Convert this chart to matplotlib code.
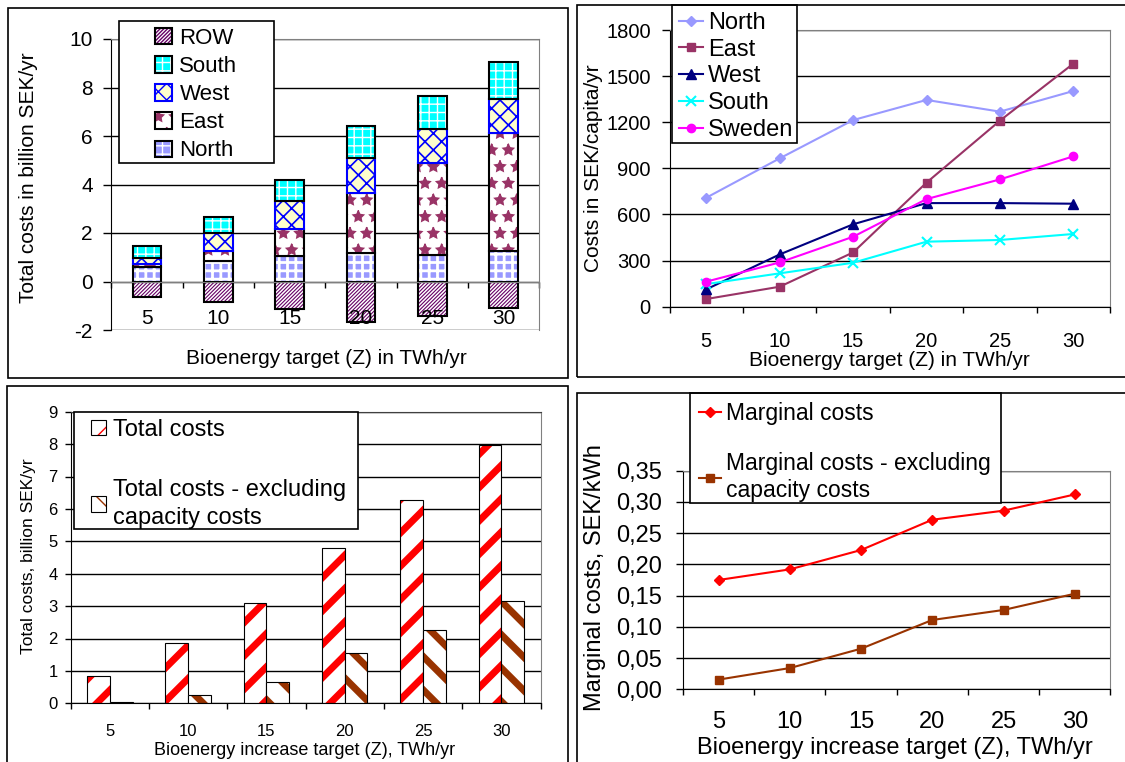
import numpy as np
import matplotlib
matplotlib.use("Agg")
import matplotlib.pyplot as plt
from matplotlib.patches import Rectangle
from matplotlib.ticker import FuncFormatter

plt.rcParams['font.family'] = ['Liberation Sans', 'DejaVu Sans']
plt.rcParams['axes.unicode_minus'] = False

# ---- data ----
targets = ['5', '10', '15', '20', '25', '30']

# top left: total costs per region, billion SEK/yr (stacked)
tot_north = [0.59, 0.85, 1.06, 1.17, 1.11, 1.24]
tot_east = [0.14, 0.39, 1.10, 2.50, 3.77, 4.87]
tot_west = [0.23, 0.75, 1.14, 1.44, 1.40, 1.43]
tot_south = [0.51, 0.66, 0.88, 1.32, 1.37, 1.51]
tot_row = [-0.64, -0.85, -1.14, -1.69, -1.41, -1.10]

# top right: costs in SEK/capita/yr
cap_north = [709, 965, 1214, 1345, 1269, 1403]
cap_east = [50, 130, 353, 807, 1210, 1581]
cap_west = [113, 340, 536, 674, 674, 670]
cap_south = [147, 217, 286, 423, 434, 473]
cap_sweden = [163, 288, 455, 700, 828, 978]

# bottom left: total costs, billion SEK/yr
total_costs = [0.84, 1.85, 3.09, 4.78, 6.26, 7.98]
total_excl = [0.03, 0.25, 0.67, 1.56, 2.26, 3.17]

# bottom right: marginal costs, SEK/kWh
marg_costs = [0.175, 0.192, 0.223, 0.2715, 0.286, 0.312]
marg_excl = [0.0155, 0.034, 0.065, 0.111, 0.127, 0.153]

W, H = 1125, 762
fig = plt.figure(figsize=(W / 100, H / 100), dpi=100)


def box(x0, y0, x1, y1):
    # pixel box (top-left origin) -> figure fraction rect
    return [x0 / W, 1 - y1 / H, (x1 - x0) / W, (y1 - y0) / H]


def pt(x, y):
    return (x / W, 1 - y / H)


def frame(x0, y0, x1, y1, ax=None, lw=1.2):
    r = Rectangle(pt(x0, y1), (x1 - x0) / W, (y1 - y0) / H, transform=fig.transFigure,
                  facecolor='white' if ax is not None else 'none', edgecolor='black',
                  lw=lw, clip_on=False, zorder=4)
    if ax is None:
        fig.add_artist(r)
    else:
        ax.add_artist(r)


def style_axes(ax, ymin, ymax, ystep, ysize, ypad, ylen, xsize, xpad):
    ax.set_xlim(-0.5, 5.5)
    ax.set_ylim(ymin, ymax)
    ax.set_yticks(np.arange(ymin, ymax + ystep / 2, ystep))
    ax.set_xticks(range(6))
    ax.set_xticklabels(targets)
    ax.set_xticks(np.arange(-0.5, 6, 1), minor=True)
    ax.tick_params(axis='x', which='major', length=0, labelsize=xsize, pad=xpad)
    ax.tick_params(axis='x', which='minor', length=4.5, width=1, direction='out')
    ax.tick_params(axis='y', length=ylen, width=1, labelsize=ysize, pad=ypad)
    # gridlines kept under the marks, tick labels stay on top
    for v in ax.get_yticks():
        ax.axhline(v, color='black', lw=1, zorder=0.5)
    for s in ['top', 'right']:
        ax.spines[s].set_color('#808080')
    for s in ['left', 'bottom']:
        ax.spines[s].set_color('black')


def hatched_bar(ax, x, h, bottom, face, hatch, hcolor, edge, width, elw=1.5, hlw=1.0):
    with plt.rc_context({'hatch.linewidth': hlw}):
        b1 = ax.bar(x, h, width, bottom=bottom, color=face, hatch=hatch,
                    edgecolor=hcolor, lw=0)
    for p in b1:
        if hasattr(p, 'set_hatch_linewidth'):
            p.set_hatch_linewidth(hlw)
    b2 = ax.bar(x, h, width, bottom=bottom, fill=False, edgecolor=edge, lw=elw)
    return (b1, b2)


x = np.arange(len(targets))

# panel frames
frame(7.9, 8.3, 567.7, 377.7)
frame(576.7, 5, 1130, 376.7)
frame(7, 385.7, 567.7, 770)
frame(576.7, 393.3, 1130, 770)

# ---------------- top left ----------------
ax1 = fig.add_axes(box(111.4, 39, 539.3, 330))
style_axes(ax1, -2, 10, 2, 15, 8, 5.5, 15, 20)
ax1.spines['bottom'].set_position(('data', 0))
ax1.spines['bottom'].set_color('#808080')

n = np.array(tot_north)
e = np.array(tot_east)
w = np.array(tot_west)
s = np.array(tot_south)
h_row = hatched_bar(ax1, x, tot_row, 0, 'white', '/' * 9, '#660066', 'black', 0.4, hlw=0.8)
h_north = hatched_bar(ax1, x, n, 0, '#9999FF', '++', 'white', 'black', 0.4, hlw=2.0)
h_east = hatched_bar(ax1, x, e, n, 'white', '*', '#993366', 'black', 0.4)
h_west = hatched_bar(ax1, x, w, n + e, '#FFFFCC', 'xx', '#0000FF', '#0000FF', 0.4, hlw=1.2)
h_south = hatched_bar(ax1, x, s, n + e + w, '#00FFFF', '++', 'white', 'black', 0.4, hlw=1.0)

frame(118.6, 20.7, 274, 163.3, ax=ax1)
ax1.legend([h_row, h_south, h_west, h_east, h_north],
           ['ROW', 'South', 'West', 'East', 'North'],
           loc='upper left', bbox_to_anchor=pt(155, 28), bbox_transform=fig.transFigure,
           frameon=False, borderpad=0, borderaxespad=0, fontsize=16,
           handlelength=0.75, handleheight=0.75, handletextpad=0.35, labelspacing=0.32)
fig.text(*pt(28.6, 178), 'Total costs in billion SEK/yr', rotation=90,
         ha='center', va='center', fontsize=15)
fig.text(*pt(326, 358), 'Bioenergy target (Z) in TWh/yr', ha='center', va='center',
         fontsize=15)

# ---------------- top right ----------------
ax2 = fig.add_axes(box(669.6, 30, 1110, 306.7))
style_axes(ax2, 0, 1800, 300, 14.5, 8, 5.5, 14.5, 18)
ax2.plot(x, cap_north, color='#9999FF', marker='D', ms=5, lw=1.5, label='North')
ax2.plot(x, cap_east, color='#993366', marker='s', ms=6, lw=1.5, label='East')
ax2.plot(x, cap_west, color='#000080', marker='^', ms=7, lw=1.5, label='West')
ax2.plot(x, cap_south, color='#00FFFF', marker='x', ms=7, mew=1.5, lw=1.5, label='South')
ax2.plot(x, cap_sweden, color='#FF00FF', marker='o', ms=6, lw=1.5, label='Sweden')
frame(672, 5, 797, 142.7, ax=ax2)
ax2.legend(loc='upper left', bbox_to_anchor=pt(679, 12), bbox_transform=fig.transFigure,
           frameon=False, borderpad=0, borderaxespad=0, fontsize=17,
           handlelength=1.0, handletextpad=0.22, labelspacing=0.2)
fig.text(*pt(593.6, 168), 'Costs in SEK/capita/yr', rotation=90,
         ha='center', va='center', fontsize=15)
fig.text(*pt(889, 360), 'Bioenergy target (Z) in TWh/yr', ha='center', va='center',
         fontsize=15)

# ---------------- bottom left ----------------
ax3 = fig.add_axes(box(70.7, 411.7, 540.5, 703.3))
style_axes(ax3, 0, 9, 1, 12, 5, 4.5, 12, 15)
ax3.spines['top'].set_color('#404040')
h_tot = hatched_bar(ax3, x - 0.145, total_costs, 0, 'white', '/', '#FF0000', 'black',
                    0.29, elw=0.8, hlw=5)
h_exc = hatched_bar(ax3, x + 0.145, total_excl, 0, 'white', '\\', '#993300', 'black',
                    0.29, elw=0.8, hlw=5)
frame(74.3, 411.7, 358, 529, ax=ax3)
leg3 = ax3.legend([h_tot, h_exc], ['Total costs', 'Total costs - excluding\ncapacity costs'],
                  loc='upper left', bbox_to_anchor=pt(91, 419), bbox_transform=fig.transFigure,
                  frameon=False, borderpad=0, borderaxespad=0, fontsize=17,
                  handlelength=0.63, handleheight=0.63, handletextpad=0.3, labelspacing=1.62)
for t in leg3.get_texts():
    t.set_linespacing(1.32)
fig.text(*pt(28.6, 556), 'Total costs, billion SEK/yr', rotation=90,
         ha='center', va='center', fontsize=12.5)
fig.text(*pt(305, 750.7), 'Bioenergy increase target (Z), TWh/yr', ha='center',
         va='center', fontsize=13)

# ---------------- bottom right ----------------
ax4 = fig.add_axes(box(682.9, 470.7, 1110.4, 689.3))
style_axes(ax4, 0, 0.35, 0.05, 17, 10, 5, 17, 15.5)
ax4.yaxis.set_major_formatter(FuncFormatter(lambda v, p: f'{v:.2f}'.replace('.', ',')))
ax4.plot(x, marg_costs, color='#FF0000', marker='D', ms=5, lw=1.5, label='Marginal costs')
ax4.plot(x, marg_excl, color='#993300', marker='s', ms=6, lw=1.5,
         label='Marginal costs - excluding\ncapacity costs')
frame(690, 393, 1001.4, 503, ax=ax4)
ax4.legend(loc='upper left', bbox_to_anchor=pt(699, 402), bbox_transform=fig.transFigure,
           frameon=False, borderpad=0, borderaxespad=0, fontsize=16.5,
           handlelength=0.96, handletextpad=0.2, labelspacing=1.2)
fig.text(*pt(595, 578), 'Marginal costs, SEK/kWh', rotation=90,
         ha='center', va='center', fontsize=17)
fig.text(*pt(895, 748), 'Bioenergy increase target (Z), TWh/yr', ha='center',
         va='center', fontsize=17)

fig.savefig('out.png', dpi=100)
